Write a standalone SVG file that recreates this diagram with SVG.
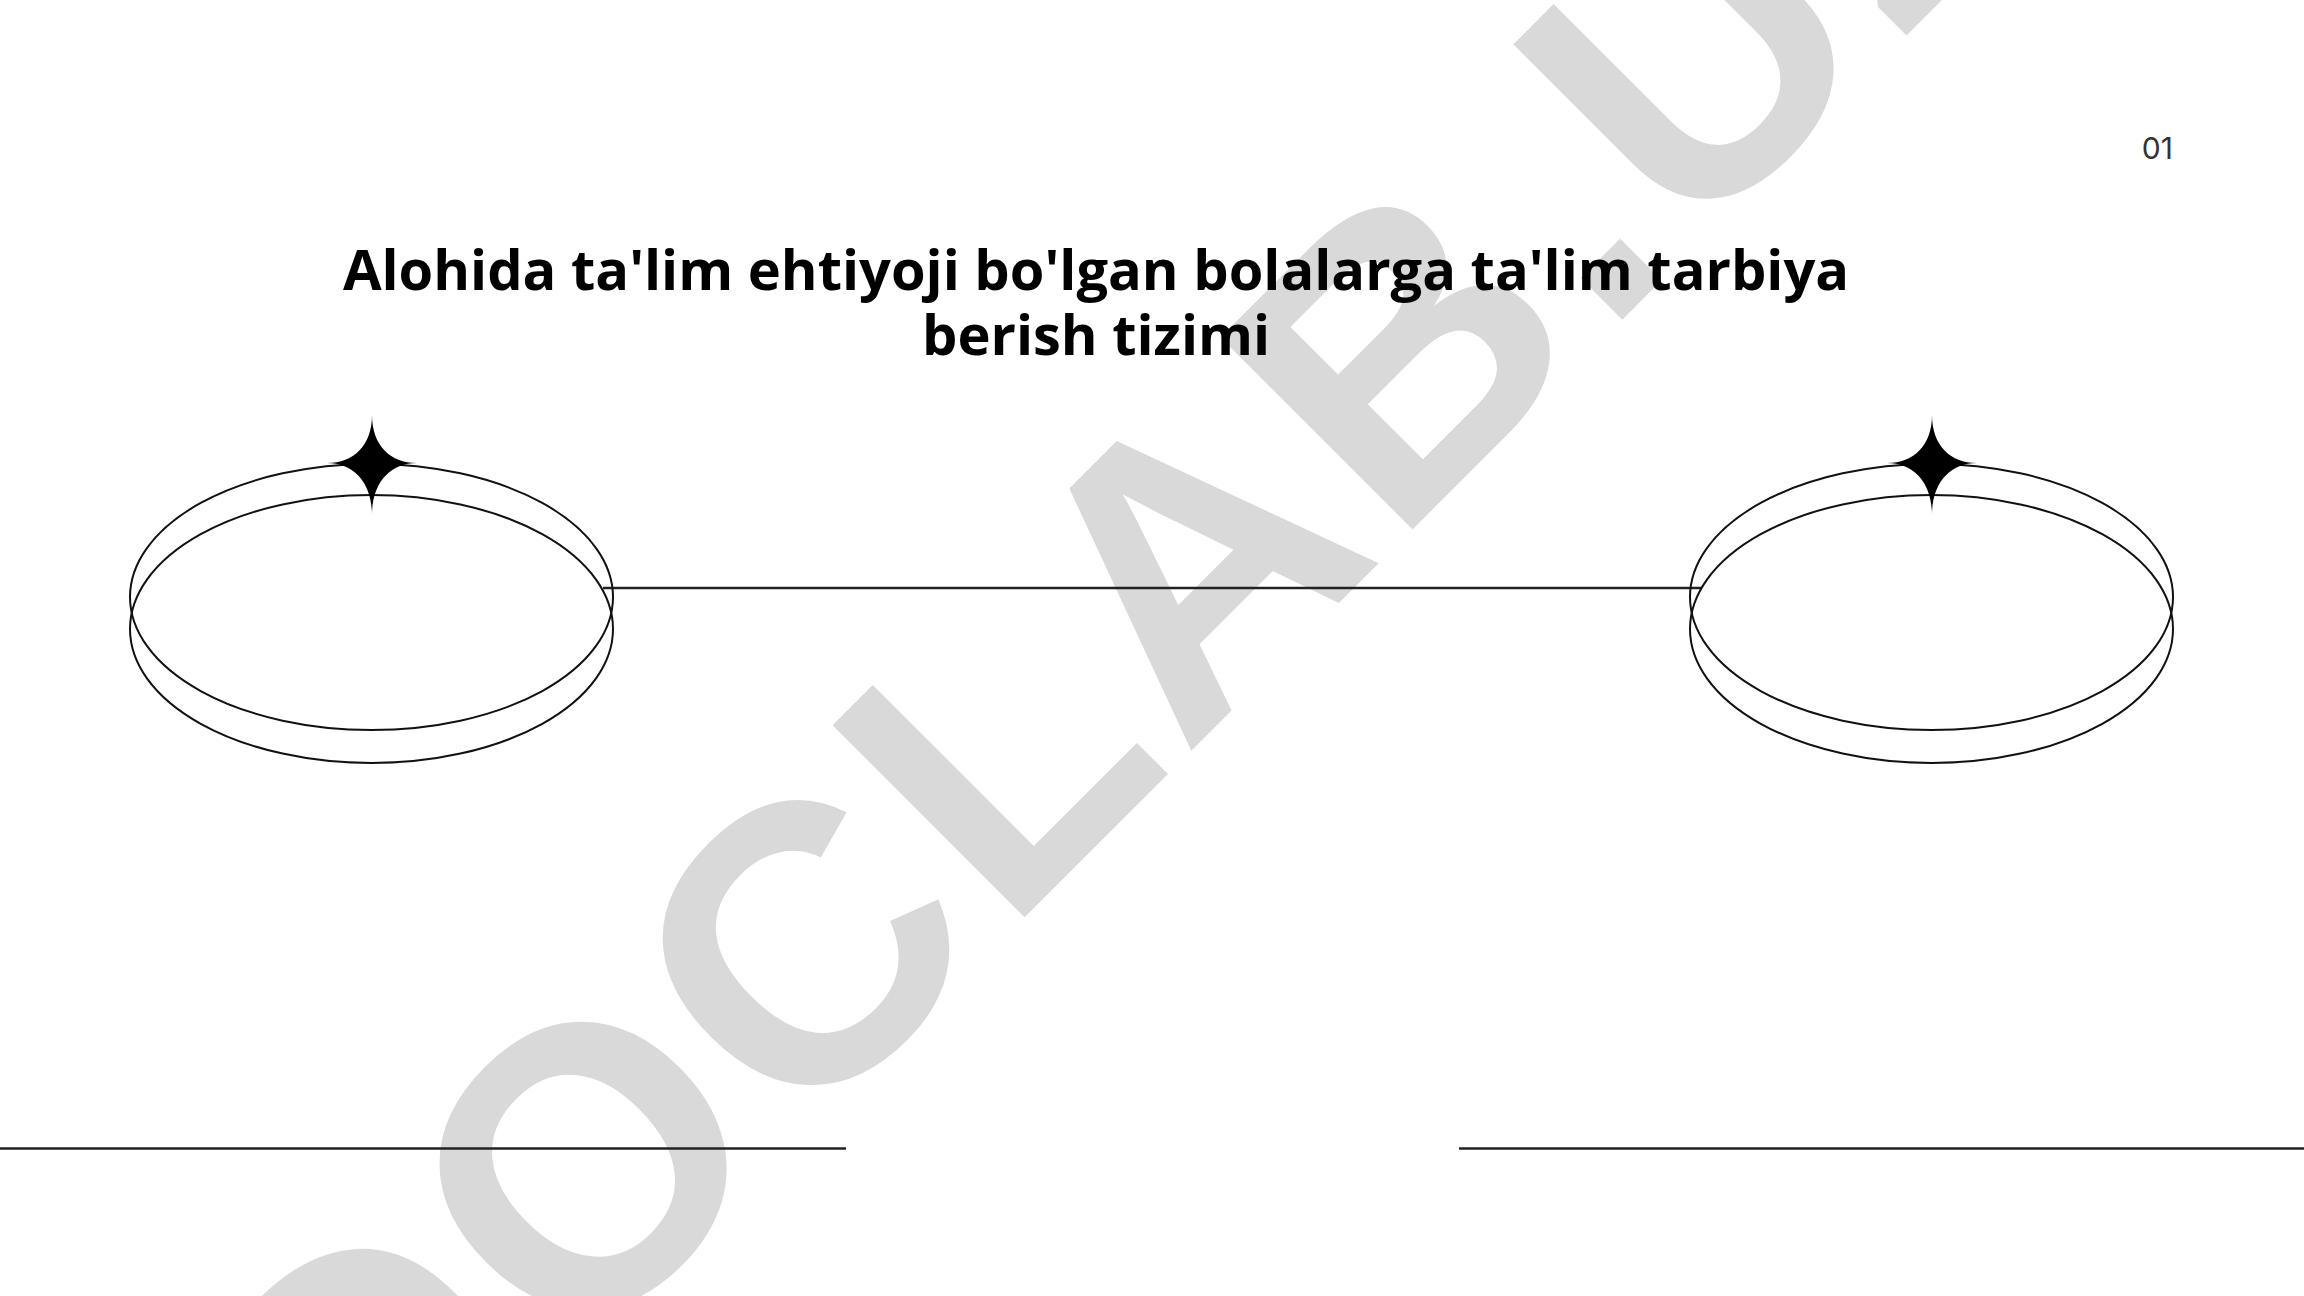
<svg xmlns="http://www.w3.org/2000/svg" width="2304" height="1296" viewBox="0 0 2304 1296">
  <style>
    .ring { fill: none; stroke: #111; stroke-width: 2; }
    .rule { stroke: #222; stroke-width: 2.5; fill: none; }
    .star { fill: #000; }
    .title { font-family: "Open Sans", "Noto Sans", sans-serif; font-weight: 700; font-size: 56px; fill: #000; text-anchor: middle; }
    .num { font-family: "Inter", "Lato", sans-serif; font-size: 30px; fill: #333; text-anchor: end; }
    .wm { font-family: "Liberation Sans", Arial, sans-serif; font-weight: 700; font-size: 395px; letter-spacing: 11px; fill: #d9d9d9; }
  </style>
  <defs>
    <path id="starShape" d="M 0 -48 C 0 -18 18 0 45 0 C 18 0 0 20 0 52 C 0 20 -18 0 -45 0 C -18 0 0 -18 0 -48 Z"/>
  </defs>
  <rect width="2304" height="1296" fill="#fff"/>

  <g id="watermark">
    <text class="wm" transform="translate(362 1580) rotate(-45)">DOCLAB.UZ</text>
  </g>

  <g id="page-number">
    <text class="num" x="2173" y="159">01</text>
  </g>

  <g id="title">
    <text class="title" x="1096" y="290">Alohida ta'lim ehtiyoji bo'lgan bolalarga ta'lim tarbiya</text>
    <text class="title" x="1096" y="355">berish tizimi</text>
  </g>

  <g id="connectors">
    <line class="rule" x1="603" y1="588" x2="1702" y2="588"/>
    <line class="rule" x1="0" y1="1148.5" x2="846" y2="1148.5"/>
    <line class="rule" x1="1459" y1="1148.5" x2="2304" y2="1148.5"/>
  </g>

  <g id="node-left">
    <ellipse class="ring" cx="371.5" cy="597" rx="241.5" ry="133"/>
    <ellipse class="ring" cx="371.5" cy="629" rx="241.5" ry="134"/>
    <use href="#starShape" class="star" x="372" y="463"/>
  </g>

  <g id="node-right">
    <ellipse class="ring" cx="1931.5" cy="597" rx="241.5" ry="133"/>
    <ellipse class="ring" cx="1931.5" cy="629" rx="241.5" ry="134"/>
    <use href="#starShape" class="star" x="1932" y="463"/>
  </g>
</svg>
